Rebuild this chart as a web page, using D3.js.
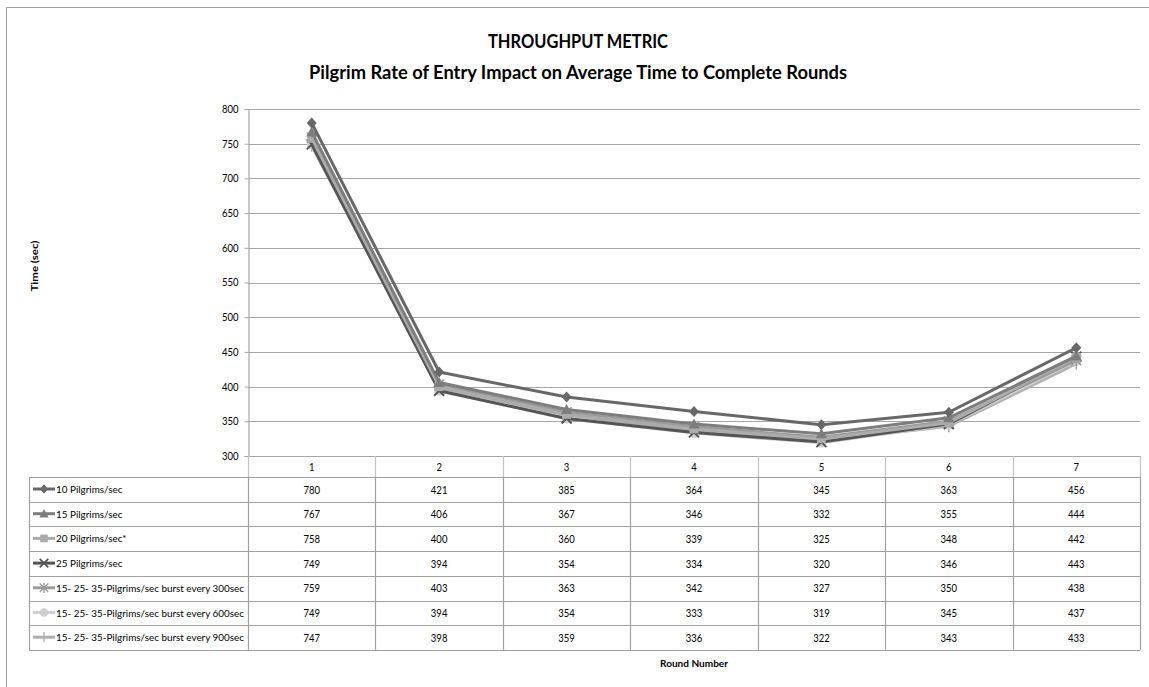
<!DOCTYPE html>
<html><head><meta charset="utf-8">
<script src="https://cdn.jsdelivr.net/npm/d3@7"></script>
<style>
body{margin:0;background:#fff;}
text{font-family:Lato,"Open Sans",sans-serif;fill:#000;}
</style></head>
<body><svg id="chart" width="1149" height="687"></svg>
<script>
const rounds = ["1","2","3","4","5","6","7"];
const seriesNames = ["10 Pilgrims/sec","15 Pilgrims/sec","20 Pilgrims/sec*","25 Pilgrims/sec",
  "15- 25- 35-Pilgrims/sec burst every 300sec","15- 25- 35-Pilgrims/sec burst every 600sec","15- 25- 35-Pilgrims/sec burst every 900sec"];
const s10 = [780,421,385,364,345,363,456];
const s15 = [767,406,367,346,332,355,444];
const s20 = [758,400,360,339,325,348,442];
const s25 = [749,394,354,334,320,346,443];
const b300 = [759,403,363,342,327,350,438];
const b600 = [749,394,354,333,319,345,437];
const b900 = [747,398,359,336,322,343,433];
const yTicks = [300,350,400,450,500,550,600,650,700,750,800];
const titleLines = ["THROUGHPUT METRIC","Pilgrim Rate of Entry Impact on Average Time to Complete Rounds"];
const yLabel = "Time (sec)";
const xLabel = "Round Number";

const seriesValues = [s10,s15,s20,s25,b300,b600,b900];
const colors = ["#686868","#7d7d7d","#ababab","#555555","#9a9a9a","#cfcfcf","#b0b0b0"];
const markers = ["diamond","triangle","square","x","star","circle","plus"];

const svg = d3.select("#chart");
const L = 248, R = 1140, T = 109, B = 456;
const x = d3.scaleBand().domain(rounds).range([L,R]);
const y = d3.scaleLinear().domain([300,800]).range([B,T]);

function toWidth(sel, w){
  sel.attr("textLength",w).attr("lengthAdjust","spacingAndGlyphs");
}
function squish(sel, k){
  sel.each(function(){
    const cw = this.getComputedTextLength();
    d3.select(this).attr("textLength",cw*k).attr("lengthAdjust","spacingAndGlyphs");
  });
}

// frame
svg.append("path").attr("d","M6.5,687 V7.5 H1149").attr("fill","none").attr("stroke","#a0a0a0").attr("stroke-width",1);

// title
const t1 = svg.append("text").attr("x",578).attr("y",48).attr("text-anchor","middle").attr("font-weight","bold").attr("font-size",18.5).text(titleLines[0]);
toWidth(t1,180);
const t2 = svg.append("text").attr("x",578).attr("y",79).attr("text-anchor","middle").attr("font-weight","bold").attr("font-size",18.5).text(titleLines[1]);
toWidth(t2,538);

// gridlines
svg.append("g").selectAll("line").data(yTicks).join("line")
  .attr("x1",L).attr("x2",R).attr("y1",d=>Math.round(y(d))+0.5).attr("y2",d=>Math.round(y(d))+0.5)
  .attr("stroke","#a6a6a6").attr("stroke-width",1.2);

const tfs = 10.3;
const probe = svg.append("text").attr("font-size",tfs).text(seriesNames[4]);
const k = 188/probe.node().getComputedTextLength(); probe.remove();

// y axis
const yAxis = svg.append("g").attr("transform",`translate(${L+0.5},0)`)
  .call(d3.axisLeft(y).tickValues(yTicks).tickSize(4).tickPadding(6));
yAxis.select(".domain").attr("stroke","#a6a6a6").attr("stroke-width",1.2);
yAxis.selectAll(".tick line").attr("stroke","#a6a6a6");
yAxis.selectAll("text").attr("font-size",10.8).style("font-family","Lato,sans-serif").attr("fill","#000");
squish(yAxis.selectAll("text"), 0.88);

// y label
const yl = svg.append("text").attr("transform","translate(38,266) rotate(-90)").attr("text-anchor","middle")
  .attr("font-weight","bold").attr("font-size",10).text(yLabel);
toWidth(yl,51);

// table
const rowH = 24.7;
const tableTop = B, headerH = 21;
const legendL = 29;
const tg = svg.append("g");
const colX = rounds.concat(["end"]).map((d,i)=>Math.round(L+i*x.bandwidth())+0.5);
// header row separators (lighter)
tg.selectAll("line.hv").data(colX).join("line")
  .attr("x1",d=>d).attr("x2",d=>d)
  .attr("y1",tableTop).attr("y2",tableTop+headerH).attr("stroke","#c4c4c4").attr("stroke-width",1.2);
// body column separators
tg.selectAll("line.bv").data(colX).join("line")
  .attr("x1",d=>d).attr("x2",d=>d)
  .attr("y1",tableTop+headerH).attr("y2",tableTop+headerH+rowH*7).attr("stroke","#a0a0a0").attr("stroke-width",1.2);
tg.append("line").attr("x1",legendL+0.5).attr("x2",legendL+0.5).attr("y1",tableTop+headerH).attr("y2",tableTop+headerH+rowH*7).attr("stroke","#a0a0a0").attr("stroke-width",1.2);
const hLines = d3.range(8).map(i=>tableTop+headerH+i*rowH);
tg.selectAll("line.hh").data(hLines).join("line")
  .attr("x1",legendL).attr("x2",R).attr("y1",d=>Math.round(d)+0.5).attr("y2",d=>Math.round(d)+0.5)
  .attr("stroke","#a0a0a0").attr("stroke-width",1.2);
const ht = tg.selectAll("text.h").data(rounds).join("text")
  .attr("x",d=>x(d)+x.bandwidth()/2).attr("y",tableTop+15).attr("text-anchor","middle").attr("font-size",10.8).text(d=>d);
squish(ht, 0.88);
seriesValues.forEach((vals,si)=>{
  const ry = tableTop+headerH+si*rowH;
  const vt = tg.selectAll("text.v"+si).data(vals).join("text")
    .attr("x",(d,i)=>x(rounds[i])+x.bandwidth()/2).attr("y",ry+16.5).attr("text-anchor","middle").attr("font-size",10.8).text(d=>d);
  squish(vt, 0.88);
  const lt = tg.append("text").attr("x",legendL+27).attr("y",ry+16).attr("font-size",tfs).text(seriesNames[si]);
  squish(lt, k);
  tg.append("line").attr("x1",legendL+4).attr("x2",legendL+26).attr("y1",ry+12).attr("y2",ry+12)
    .attr("stroke",colors[si]).attr("stroke-width",3);
  drawMarker(tg, markers[si], legendL+15, ry+12, colors[si], 0.85);
});

// x label
const xl = svg.append("text").attr("x",694).attr("y",667).attr("text-anchor","middle").attr("font-weight","bold")
  .attr("font-size",10).text(xLabel);
toWidth(xl,68);

function drawMarker(g, type, cx, cy, color, s){
  s = s||1;
  const gg = g.append("g").attr("transform",`translate(${cx},${cy}) scale(${s})`);
  if(type==="diamond") gg.append("path").attr("d","M0,-5.5 L5,0 L0,5.5 L-5,0Z").attr("fill",color);
  else if(type==="triangle") gg.append("path").attr("d","M0,-5.5 L5.5,4.5 L-5.5,4.5Z").attr("fill",color);
  else if(type==="square") gg.append("rect").attr("x",-4.5).attr("y",-4.5).attr("width",9).attr("height",9).attr("fill",color);
  else if(type==="x") gg.append("path").attr("d","M-5,-5 L5,5 M-5,5 L5,-5").attr("stroke",color).attr("stroke-width",2);
  else if(type==="star") gg.append("path").attr("d","M-5,-5 L5,5 M-5,5 L5,-5 M0,-6 V6").attr("stroke",color).attr("stroke-width",1.6);
  else if(type==="circle") gg.append("circle").attr("r",5).attr("fill",color);
  else if(type==="plus") gg.append("path").attr("d","M0,-6 V6").attr("stroke",color).attr("stroke-width",1.6);
}

const line = d3.line().x((d,i)=>x(rounds[i])+x.bandwidth()/2).y(d=>y(d));
const lg = svg.append("g");
for(let si=seriesValues.length-1; si>=0; si--){
  lg.append("path").datum(seriesValues[si]).attr("d",line).attr("fill","none")
    .attr("stroke",colors[si]).attr("stroke-width",3).attr("stroke-linejoin","round");
  seriesValues[si].forEach((v,i)=>drawMarker(lg, markers[si], x(rounds[i])+x.bandwidth()/2, y(v), colors[si], 1));
}
</script></body></html>
